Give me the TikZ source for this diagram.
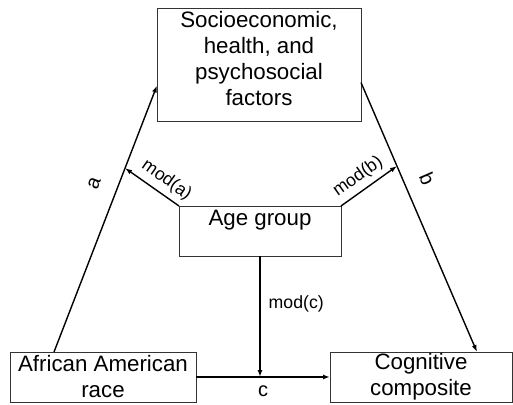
\documentclass[tikz,border=0pt]{standalone}
\usepackage{fontspec}
\setmainfont{Liberation Sans}
\usetikzlibrary{arrows.meta,calc}

\begin{document}
\begin{tikzpicture}[
                x=1pt, y=-1pt,
                FactorBox/.style={draw=black!80, line width=0.9pt, align=center, inner sep=0pt, outer sep=0pt, font=\fontsize{22.3}{26}\selectfont},
                PathArrow/.style={-{Latex[length=7pt, width=5pt]}, line width=1.4pt},
                PathLabel/.style={inner sep=2pt, font=\fontsize{20}{24}\selectfont},
                ModLabel/.style={inner sep=2pt, font=\fontsize{17.7}{21}\selectfont},
            ]
            \useasboundingbox (0,0) rectangle (513,404);
            % boxes
            \node [FactorBox, minimum width=204pt, minimum height=113pt, text depth=12pt] (soc) at (259,64.5) {Socioeconomic,\\health, and\\psychosocial\\factors};
            \node [FactorBox, minimum width=162pt, minimum height=50pt, text height=16pt, text depth=28pt] (age) at (260,231) {Age group};
            \node [FactorBox, minimum width=186pt, minimum height=50pt] (race) at (103,377) {African American\\race};
            \node [FactorBox, minimum width=182pt, minimum height=50pt] (cog) at (421,377) {Cognitive\\composite};

            % paths a, b, c
            \draw [PathArrow] ($(race.north west)+(44,0)$) -- ([yshift=-21pt]soc.west)
                coordinate[pos=0.69] (ma) node[PathLabel, pos=0.6, sloped, above=15pt] {a};
            \draw [PathArrow] ([yshift=-18pt]soc.east) -- ($(cog.north west)+(147,0)$)
                coordinate[pos=0.31] (mb) node[PathLabel, pos=0.39, sloped, above=13pt] {b};
            \draw [PathArrow] (race.east) -- (cog.west)
                coordinate[midway] (mc) node[PathLabel, midway, below=6pt] {c};

            % moderation
            \draw [PathArrow] (age.north west) -- (ma) node[ModLabel, pos=0.38, sloped, above=3pt] {mod(a)};
            \draw [PathArrow] (age.north east) -- (mb) node[ModLabel, pos=0.45, sloped, above=3pt] {mod(b)};
            \draw [PathArrow] (age.south) -- (age.south |- mc) node[ModLabel, pos=0.4, right=6pt] {mod(c)};
        \end{tikzpicture}
\end{document}
